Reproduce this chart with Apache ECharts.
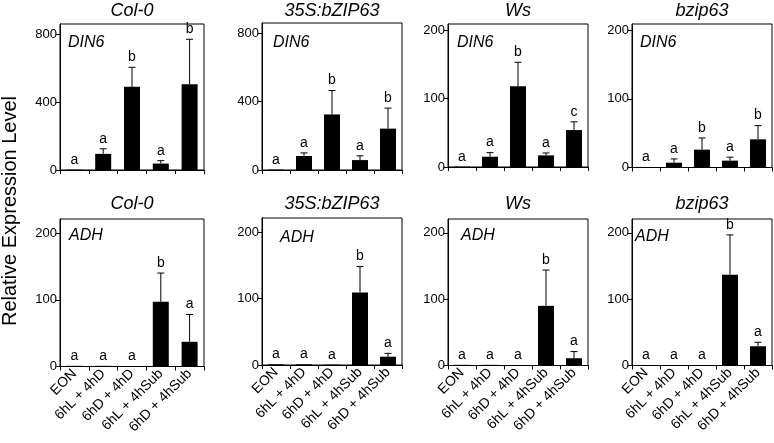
<!DOCTYPE html>
<html><head><meta charset="utf-8">
<script src="https://cdn.jsdelivr.net/npm/echarts@6/dist/echarts.min.js"></script>
<style>html,body{margin:0;padding:0;background:#fff}#c{width:774px;height:443px}</style>
</head><body><div id="c"></div>
<script>
// ---------- data ----------
const categories = ['EON', '6hL + 4hD', '6hD + 4hD', '6hL + 4hSub', '6hD + 4hSub'];
const panelTitles = ['Col-0', '35S:bZIP63', 'Ws', 'bzip63'];
const geneNames = ['DIN6', 'ADH'];
const yAxisTitle = 'Relative Expression Level';

const din6Col0 = [2, 95, 490, 38, 505];
const din6Col0Err = [0, 30, 115, 17, 265];
const din6Col0Sig = ['a', 'a', 'b', 'a', 'b'];

const din6Ox = [2, 82, 325, 58, 242];
const din6OxErr = [0, 18, 140, 25, 120];
const din6OxSig = ['a', 'a', 'b', 'a', 'b'];

const din6Ws = [0.5, 15, 118, 17, 54];
const din6WsErr = [0, 6, 35, 3.5, 12];
const din6WsSig = ['a', 'a', 'b', 'a', 'c'];

const din6Bzip = [0.5, 7, 26, 10, 41];
const din6BzipErr = [0, 5.5, 17, 5, 20];
const din6BzipSig = ['a', 'a', 'b', 'a', 'b'];

const adhCol0 = [1, 1, 0.5, 97, 37];
const adhCol0Err = [0, 0, 0, 43, 41];
const adhCol0Sig = ['a', 'a', 'a', 'b', 'a'];

const adhOx = [1, 1, 0.5, 109, 12.5];
const adhOxErr = [0, 0, 0, 39, 5];
const adhOxSig = ['a', 'a', 'a', 'b', 'a'];

const adhWs = [1, 1, 0.3, 90, 11];
const adhWsErr = [0, 0, 0, 54, 10];
const adhWsSig = ['a', 'a', 'a', 'b', 'a'];

const adhBzip = [0.5, 0.5, 0.5, 137, 29];
const adhBzipErr = [0, 0, 0, 60, 6];
const adhBzipSig = ['a', 'a', 'a', 'b', 'a'];

const din6Ticks = [0, 400, 800];
const din6SmallTicks = [0, 100, 200];
const adhTicks = [0, 100, 200];

// ---------- panels ----------
const panels = [
  {row: 0, col: 0, v: din6Col0, e: din6Col0Err, s: din6Col0Sig, ticks: din6Ticks, max: 860},
  {row: 0, col: 1, v: din6Ox, e: din6OxErr, s: din6OxSig, ticks: din6Ticks, max: 860},
  {row: 0, col: 2, v: din6Ws, e: din6WsErr, s: din6WsSig, ticks: din6SmallTicks, max: 209},
  {row: 0, col: 3, v: din6Bzip, e: din6BzipErr, s: din6BzipSig, ticks: din6SmallTicks, max: 209},
  {row: 1, col: 0, v: adhCol0, e: adhCol0Err, s: adhCol0Sig, ticks: adhTicks, max: 221},
  {row: 1, col: 1, v: adhOx, e: adhOxErr, s: adhOxSig, ticks: adhTicks, max: 221},
  {row: 1, col: 2, v: adhWs, e: adhWsErr, s: adhWsSig, ticks: adhTicks, max: 221},
  {row: 1, col: 3, v: adhBzip, e: adhBzipErr, s: adhBzipSig, ticks: adhTicks, max: 221}
];

// layout (pixels)
const colLeft = [60, 262, 448, 632];
const colWidth = [144, 140, 140, 140];
const rowTop = [[24, 23, 24, 24], [219, 218, 219, 219]];
const rowBottom = [[170, 170, 167, 167.5], [366.5, 365, 365.5, 365.5]];
const geneOffsetX = [[8, 11, 9, 8], [9, 18, 13, 3]];
const geneY = [[44, 44, 44, 44], [237, 239, 237, 238]];
const titleY = [11, 204];

const FONT = '"Liberation Sans", Arial, sans-serif';

const grids = [], xAxes = [], yAxes = [], series = [], graphics = [];

panels.forEach((p, i) => {
  const left = colLeft[p.col], width = colWidth[p.col];
  const top = rowTop[p.row][p.col], bottom = rowBottom[p.row][p.col];
  grids.push({left: left, top: top, width: width, height: bottom - top,
    show: true, borderColor: '#000', borderWidth: 1, backgroundColor: 'transparent'});
  xAxes.push({
    type: 'category', gridIndex: i, data: categories,
    axisLine: {show: true, lineStyle: {color: '#000', width: 1}},
    axisTick: {show: true, length: 4, lineStyle: {color: '#000'}},
    axisLabel: {show: p.row === 1, rotate: 45, interval: 0, fontSize: 14, color: '#000',
      fontFamily: FONT, margin: 5}
  });
  yAxes.push({
    type: 'value', gridIndex: i, min: 0, max: p.max,
    splitLine: {show: false},
    axisLine: {show: true, lineStyle: {color: '#000', width: 1}},
    axisTick: {show: true, length: 4, lineStyle: {color: '#000'}, customValues: p.ticks},
    axisLabel: {fontSize: 13, color: '#000', fontFamily: FONT, margin: 3, customValues: p.ticks}
  });
  series.push({
    type: 'bar', xAxisIndex: i, yAxisIndex: i, data: p.v, barWidth: 16,
    itemStyle: {color: '#000'}, silent: true, animation: false
  });
  const errData = p.v.map((val, k) => [k, val, p.e[k], p.s[k]]);
  series.push({
    type: 'custom', xAxisIndex: i, yAxisIndex: i, data: errData, animation: false, silent: true,
    renderItem: function (params, api) {
      const k = api.value(0), val = api.value(1), err = api.value(2);
      const sig = errData[params.dataIndex][3];
      const base = api.coord([k, val]);
      const topPt = api.coord([k, val + err]);
      const children = [];
      if (err > 0) {
        children.push({type: 'line', shape: {x1: base[0], y1: base[1], x2: topPt[0], y2: topPt[1]},
          style: {stroke: '#000', lineWidth: 1}});
        children.push({type: 'line', shape: {x1: topPt[0] - 3.5, y1: topPt[1], x2: topPt[0] + 3.5, y2: topPt[1]},
          style: {stroke: '#000', lineWidth: 1}});
      }
      children.push({type: 'text', x: topPt[0], y: topPt[1] - 3,
        style: {text: sig, fill: '#000', font: '14px ' + FONT, textAlign: 'center', textVerticalAlign: 'bottom'}});
      return {type: 'group', children: children};
    }
  });
  graphics.push({type: 'text', left: left + geneOffsetX[p.row][p.col], top: geneY[p.row][p.col] - 9,
    style: {text: geneNames[p.row], fill: '#000', font: 'italic 16px ' + FONT}});
  graphics.push({type: 'text', x: left + width / 2, y: titleY[p.row],
    style: {text: panelTitles[p.col], fill: '#000', font: 'italic 18px ' + FONT,
      textAlign: 'center', textVerticalAlign: 'middle'}});
});

graphics.push({type: 'text', x: 10, y: 211, rotation: Math.PI / 2,
  style: {text: yAxisTitle, fill: '#000', font: '20px ' + FONT, textAlign: 'center', textVerticalAlign: 'middle'}});

const chart = echarts.init(document.getElementById('c'), null, {renderer: 'canvas'});
chart.setOption({
  animation: false,
  backgroundColor: '#fff',
  grid: grids, xAxis: xAxes, yAxis: yAxes, series: series, graphic: graphics
});
</script></body></html>
